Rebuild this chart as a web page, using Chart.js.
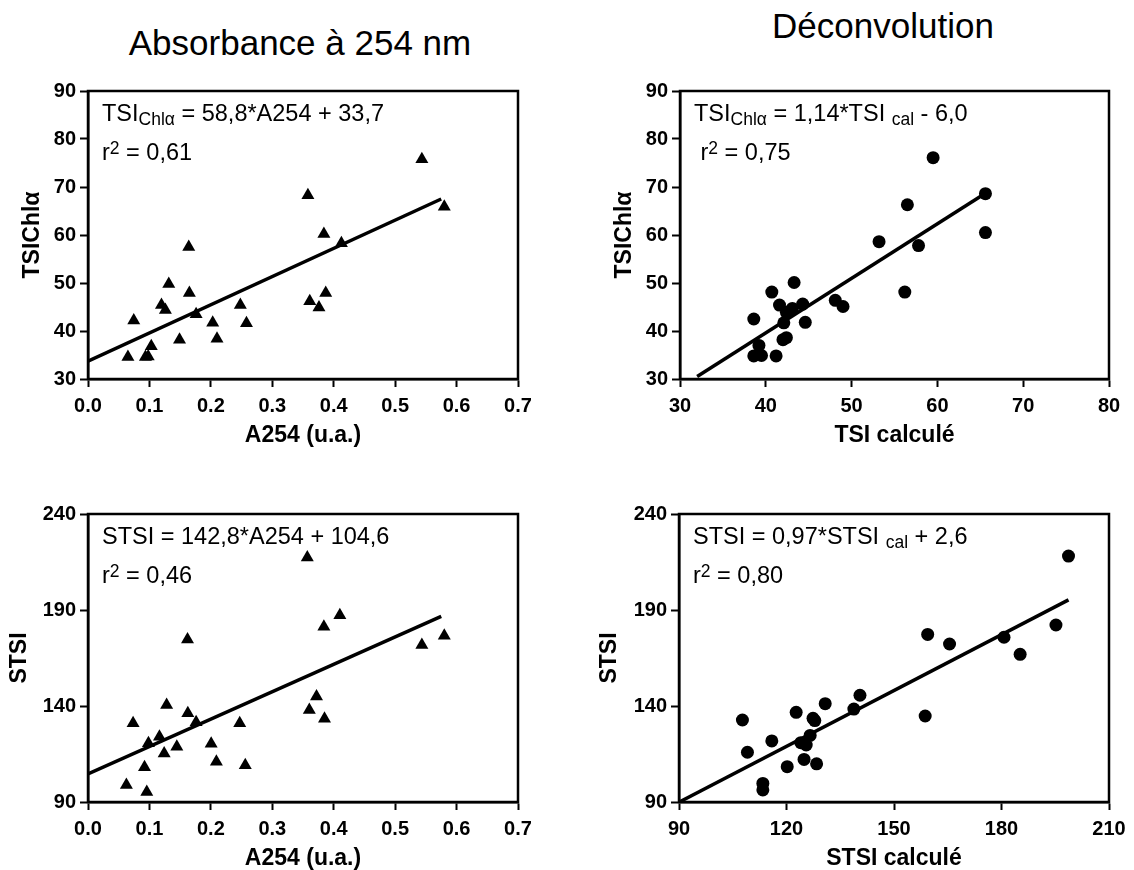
<!DOCTYPE html>
<html>
<head>
<meta charset="utf-8">
<script src="https://cdn.jsdelivr.net/npm/chart.js@4.4.0/dist/chart.umd.min.js"></script>
<style>
  body { margin: 0; background: #fff; width: 1134px; height: 870px; position: relative; overflow: hidden;
         font-family: "Liberation Sans", Arial, sans-serif; }
  canvas { position: absolute; }
  .head { position: absolute; font-size: 35px; line-height: 1; color: #000; white-space: nowrap;
          transform: translateX(-50%); }
</style>
</head>
<body>
<div class="head" style="left:300px; top:25px;">Absorbance à 254 nm</div>
<div class="head" style="left:883px; top:8px;">Déconvolution</div>
<canvas id="tl" width="548" height="378" style="left:0px; top:71px;"></canvas>
<canvas id="tr" width="542" height="378" style="left:592px; top:71px;"></canvas>
<canvas id="bl" width="548" height="378" style="left:0px; top:494px;"></canvas>
<canvas id="br" width="543" height="378" style="left:591px; top:494px;"></canvas>
<script>
// absorbance vs TSI Chl a
const a254A = [0.065, 0.0745, 0.0935, 0.098, 0.103, 0.1196, 0.126, 0.1315, 0.149, 0.164, 0.165, 0.176,
               0.203, 0.210, 0.248, 0.258, 0.358, 0.361, 0.376, 0.384, 0.387, 0.4125, 0.5435, 0.580];
const tsiChlA = [34.6, 42.2, 34.6, 34.7, 36.8, 45.4, 44.4, 49.8, 38.2, 57.5, 47.9, 43.5,
                 41.7, 38.4, 45.4, 41.6, 68.3, 46.2, 44.9, 60.2, 47.9, 58.3, 75.8, 65.9];
const fitAX = [0, 0.575];
const fitAY = [33.7, 67.5];

// deconvolution vs TSI Chl a
const tsiCalc = [38.6, 38.6, 39.2, 39.5, 40.7, 41.2, 41.6, 42.1, 42.0, 42.4, 42.4, 43.1,
                 43.3, 44.3, 44.6, 48.1, 49.0, 53.2, 56.2, 56.5, 57.8, 59.5, 65.6, 65.6];
const tsiChlB = [42.5, 34.8, 37.0, 34.9, 48.1, 34.8, 45.4, 41.7, 38.2, 38.6, 43.9, 44.7,
                 50.1, 45.6, 41.8, 46.4, 45.1, 58.6, 48.1, 66.3, 57.8, 76.1, 68.6, 60.5];
const fitBX = [32.0, 65.6];
const fitBY = [30.5, 68.7];

// absorbance vs STSI
const a254C = [0.0625, 0.0734, 0.092, 0.0957, 0.0984, 0.1163, 0.124, 0.128, 0.1446, 0.162, 0.1625, 0.176,
               0.2005, 0.209, 0.247, 0.256, 0.357, 0.3603, 0.372, 0.384, 0.385, 0.410, 0.5435, 0.580];
const stsiC = [98.9, 131.0, 108.1, 95.2, 120.6, 124.0, 115.3, 140.5, 118.8, 174.7, 136.2, 131.5,
               120.3, 111.0, 131.0, 109.1, 217.3, 137.9, 144.9, 181.3, 133.3, 187.3, 171.8, 176.6];
const fitCX = [0, 0.575];
const fitCY = [104.6, 186.7];

// deconvolution vs STSI
const stsiCalc = [107.7, 109.1, 113.4, 113.4, 115.9, 120.2, 122.7, 124.0, 124.9, 125.5, 126.6, 127.4,
                  127.9, 128.4, 130.8, 138.8, 140.5, 158.7, 159.4, 165.5, 180.7, 185.2, 195.2, 198.7];
const stsiD = [132.7, 115.9, 99.7, 96.3, 121.8, 108.4, 136.7, 120.9, 112.2, 119.7, 124.7, 133.6,
               132.4, 109.9, 141.2, 138.4, 145.6, 134.8, 177.3, 172.3, 175.8, 166.9, 182.2, 218.1];
const fitDX = [90.1, 198.7];
const fitDY = [90.0, 195.3];

const FAMILY = '"Liberation Sans", Arial, sans-serif';

const pairs = (xs, ys) => xs.map((x, i) => ({x: x, y: ys[i]}));

// box around the plot area
const framePlugin = {
  id: 'frame',
  afterDraw(chart) {
    const a = chart.chartArea, ctx = chart.ctx;
    ctx.save();
    ctx.strokeStyle = '#000';
    ctx.lineWidth = 2.5;
    ctx.strokeRect(a.left, a.top, a.right - a.left, a.bottom - a.top);
    ctx.restore();
  }
};

// regression equation with sub/superscripts
const eqPlugin = {
  id: 'eq',
  afterDraw(chart, args, opts) {
    const a = chart.chartArea, ctx = chart.ctx;
    ctx.save();
    ctx.fillStyle = '#000';
    ctx.textBaseline = 'alphabetic';
    opts.lines.forEach((line, i) => {
      let x = a.left + 14;
      const y = a.top + [30, 69][i];
      line.forEach(seg => {
        const small = seg.sub || seg.sup;
        ctx.font = (small ? 17.5 : 23.5) + 'px ' + FAMILY;
        const dy = seg.sub ? 4 : seg.sup ? -6 : 0;
        ctx.fillText(seg.t, x, y + dy);
        x += ctx.measureText(seg.t).width;
      });
    });
    ctx.restore();
  }
};

function scale(min, max, step, title, titlePad, tickPad, fmt) {
  return {
    type: 'linear',
    min: min,
    max: max,
    ticks: {
      stepSize: step,
      color: '#000',
      padding: tickPad,
      maxRotation: 0,
      autoSkip: false,
      font: {family: FAMILY, size: 20, weight: 'bold'},
      callback: fmt || (v => v)
    },
    grid: {drawOnChartArea: false, drawTicks: true, tickLength: 8, tickWidth: 2, tickColor: '#000'},
    border: {display: true, color: '#000', width: 2.5},
    title: {
      display: true, text: title, color: '#000',
      font: {family: FAMILY, size: 23, weight: 'bold'},
      padding: titlePad
    }
  };
}

function makeChart(id, xs, ys, fx, fy, style, radius, xScale, yScale, padRight, lines) {
  xScale.afterFit = s => { s.height = 70; };
  yScale.afterFit = s => { s.width = 88; };
  return new Chart(document.getElementById(id), {
    type: 'scatter',
    data: {
      datasets: [
        {
          type: 'line',
          data: pairs(fx, fy),
          borderColor: '#000',
          borderWidth: 3.5,
          pointRadius: 0,
          fill: false
        },
        {
          data: pairs(xs, ys),
          pointStyle: style,
          pointRadius: radius,
          backgroundColor: '#000',
          borderColor: '#000',
          borderWidth: 0
        }
      ]
    },
    options: {
      responsive: false,
      animation: false,
      layout: {padding: {top: 20, right: padRight, left: 0, bottom: 0}},
      scales: {x: xScale, y: yScale},
      plugins: {
        legend: {display: false},
        tooltip: {enabled: false},
        eq: {lines: lines}
      }
    },
    plugins: [framePlugin, eqPlugin]
  });
}

const oneDec = v => v.toFixed(1);

makeChart('tl', a254A, tsiChlA, fitAX, fitAY, 'triangle', 7.5,
  scale(0, 0.7, 0.1, 'A254 (u.a.)', {top: 0, bottom: 0}, 7, oneDec),
  scale(30, 90, 10, 'TSIChlα', {top: 19, bottom: 0}, 4),
  30,
  [[{t: 'TSI'}, {t: 'Chlα', sub: true}, {t: ' = 58,8*A254 + 33,7'}],
   [{t: 'r'}, {t: '2', sup: true}, {t: ' = 0,61'}]]);

makeChart('tr', tsiCalc, tsiChlB, fitBX, fitBY, 'circle', 6.5,
  scale(30, 80, 10, 'TSI calculé', {top: 0, bottom: 0}, 7),
  scale(30, 90, 10, 'TSIChlα', {top: 19, bottom: 0}, 4),
  25,
  [[{t: 'TSI'}, {t: 'Chlα', sub: true}, {t: ' = 1,14*TSI '}, {t: 'cal', sub: true}, {t: ' - 6,0'}],
   [{t: ' r'}, {t: '2', sup: true}, {t: ' = 0,75'}]]);

makeChart('bl', a254C, stsiC, fitCX, fitCY, 'triangle', 7.5,
  scale(0, 0.7, 0.1, 'A254 (u.a.)', {top: 0, bottom: 0}, 7, oneDec),
  scale(90, 240, 50, 'STSI', {top: 6, bottom: 0}, 4),
  30,
  [[{t: 'STSI = 142,8*A254 + 104,6'}],
   [{t: 'r'}, {t: '2', sup: true}, {t: ' = 0,46'}]]);

makeChart('br', stsiCalc, stsiD, fitDX, fitDY, 'circle', 6.5,
  scale(90, 210, 30, 'STSI calculé', {top: 0, bottom: 0}, 7),
  scale(90, 240, 50, 'STSI', {top: 5, bottom: 0}, 4),
  25,
  [[{t: 'STSI = 0,97*STSI '}, {t: 'cal', sub: true}, {t: ' + 2,6'}],
   [{t: 'r'}, {t: '2', sup: true}, {t: ' = 0,80'}]]);
</script>
</body>
</html>
